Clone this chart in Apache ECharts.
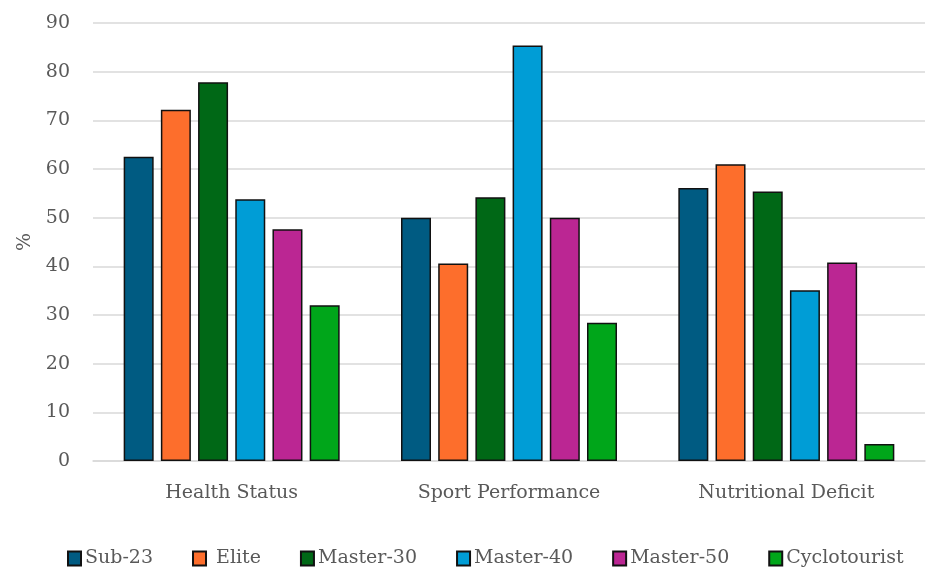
<!DOCTYPE html>
<html>
<head>
<meta charset="utf-8">
<script src="https://cdn.jsdelivr.net/npm/echarts@6/dist/echarts.min.js"></script>
<style>
  html, body { margin: 0; padding: 0; background: #fff; }
  #chart { width: 926px; height: 572px; }
</style>
</head>
<body>
<div id="chart"></div>
<script>
// Reasons reported per cyclist category (%)
const categories = ['Health Status', 'Sport Performance', 'Nutritional Deficit'];
const groupNames = ['Sub-23', 'Elite', 'Master-30', 'Master-40', 'Master-50', 'Cyclotourist'];
const sub23 = [62.5, 50.0, 56.1];
const elite = [72.2, 40.6, 61.0];
const master30 = [77.8, 54.2, 55.4];
const master40 = [53.8, 85.4, 35.1];
const master50 = [47.6, 50.0, 40.8];
const cyclotourist = [32.0, 28.4, 3.5];
const yTicks = [0, 10, 20, 30, 40, 50, 60, 70, 80, 90];

const seriesValues = [sub23, elite, master30, master40, master50, cyclotourist];
const colors = ['#005b82', '#fd6e2c', '#006816', '#009dd6', '#bb2693', '#00a61a'];
const textColor = '#595959';
const fontFamily = '"DejaVu Serif", "Liberation Serif", serif';

const chart = echarts.init(document.getElementById('chart'));
chart.setOption({
  backgroundColor: '#fff',
  animation: false,
  textStyle: { fontFamily: fontFamily, color: textColor },
  grid: { left: 93, right: 1, top: 23, bottom: 111, containLabel: false },
  legend: {
    top: 544,
    left: 62,
    itemWidth: 13,
    itemHeight: 14,
    itemGap: 39,
    icon: 'rect',
    data: groupNames,
    formatter: (name) => (name === 'Elite' ? ' ' + name : name),
    textStyle: { fontFamily: fontFamily, fontSize: 19, color: textColor, padding: [0, 0, 0, -1] }
  },
  xAxis: {
    type: 'category',
    data: categories,
    axisLine: { lineStyle: { color: '#d9d9d9', width: 1.5 } },
    axisTick: { show: false },
    axisLabel: { fontSize: 19, color: textColor, margin: 23, fontFamily: fontFamily }
  },
  yAxis: {
    type: 'value',
    min: yTicks[0],
    max: yTicks[yTicks.length - 1],
    interval: 10,
    name: '%',
    nameLocation: 'middle',
    nameGap: 53,
    nameTextStyle: { fontSize: 19, color: textColor, fontFamily: fontFamily },
    axisLine: { show: false },
    axisTick: { show: false },
    axisLabel: { fontSize: 19, color: textColor, margin: 23, fontFamily: fontFamily },
    splitLine: { lineStyle: { color: '#d9d9d9', width: 1.5 } }
  },
  series: groupNames.map((name, i) => ({
    name: name,
    type: 'bar',
    data: seriesValues[i],
    barWidth: 30,
    barGap: '24%',
    itemStyle: { color: colors[i], borderColor: '#111', borderWidth: 1.5 }
  }))
});
</script>
</body>
</html>
